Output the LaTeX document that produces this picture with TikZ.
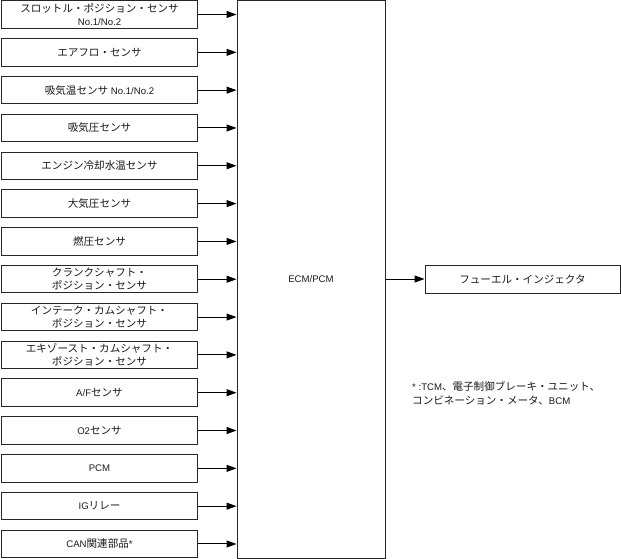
\documentclass[tikz,border=0pt]{standalone}
\usepackage{fontspec}
\setmainfont{Liberation Sans}
\newfontfamily\jpfont[Scale=1.1]{Noto Sans CJK JP}
\newcommand{\jtxt}[1]{{\jpfont #1}}
\usetikzlibrary{arrows.meta}
\tikzset{
  inbox/.style={draw=black!85, line width=1pt, minimum width=196pt, minimum height=27.5pt, align=center, inner sep=0pt, font=\fontsize{9.6}{13.5}\selectfont, text=black!90},
  bigbox/.style={draw=black!85, line width=1pt, minimum width=148pt, minimum height=557pt, inner sep=0pt, font=\fontsize{9.6}{13.5}\selectfont, text=black!90},
  outbox/.style={draw=black!85, line width=1pt, minimum width=195pt, minimum height=28pt, inner sep=0pt, font=\fontsize{9.6}{13.5}\selectfont, text=black!90},
  conn/.style={line width=1pt, draw=black, -{Triangle[length=10pt,width=7pt]}},
  note/.style={align=left, inner sep=0pt, anchor=north west, font=\fontsize{9.6}{13.5}\selectfont, text=black!90}
}
\begin{document}
\begin{tikzpicture}[x=1pt,y=-1pt]
\useasboundingbox (0,0) rectangle (621,559);
\node[bigbox] (ecm) at (311,279.5) {ECM/PCM};
\node[inbox] (b0) at (99.5,14.5+37.82*0) {\jtxt{スロットル・ポジション・センサ}\\No.1/No.2};
\node[inbox] (b1) at (99.5,14.5+37.82*1) {\jtxt{エアフロ・センサ}};
\node[inbox] (b2) at (99.5,14.5+37.82*2) {\jtxt{吸気温センサ} No.1/No.2};
\node[inbox] (b3) at (99.5,14.5+37.82*3) {\jtxt{吸気圧センサ}};
\node[inbox] (b4) at (99.5,14.5+37.82*4) {\jtxt{エンジン冷却水温センサ}};
\node[inbox] (b5) at (99.5,14.5+37.82*5) {\jtxt{大気圧センサ}};
\node[inbox] (b6) at (99.5,14.5+37.82*6) {\jtxt{燃圧センサ}};
\node[inbox] (b7) at (99.5,14.5+37.82*7) {\jtxt{クランクシャフト・}\\\jtxt{ポジション・センサ}};
\node[inbox] (b8) at (99.5,14.5+37.82*8) {\jtxt{インテーク・カムシャフト・}\\\jtxt{ポジション・センサ}};
\node[inbox] (b9) at (99.5,14.5+37.82*9) {\jtxt{エキゾースト・カムシャフト・}\\\jtxt{ポジション・センサ}};
\node[inbox] (b10) at (99.5,14.5+37.82*10) {A/F\jtxt{センサ}};
\node[inbox] (b11) at (99.5,14.5+37.82*11) {O2\jtxt{センサ}};
\node[inbox] (b12) at (99.5,14.5+37.82*12) {PCM};
\node[inbox] (b13) at (99.5,14.5+37.82*13) {IG\jtxt{リレー}};
\node[inbox] (b14) at (99.5,14.5+37.82*14) {CAN\jtxt{関連部品}*};
\foreach \i in {0,...,14} {
  \draw[conn] (b\i.east) -- (b\i.east -| ecm.west);
}
\node[outbox] (fi) at (522.5,279) {\jtxt{フューエル・インジェクタ}};
\draw[conn] (ecm.east |- fi.west) -- (fi.west);
\node[note] (nt) at (412,381.5) {* :TCM\jtxt{、電子制御ブレーキ・ユニット、}\\\jtxt{コンビネーション・メータ、}BCM};
\end{tikzpicture}
\end{document}
